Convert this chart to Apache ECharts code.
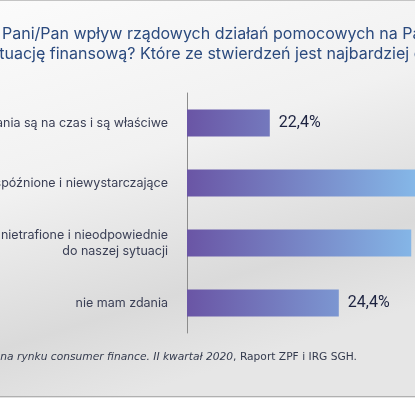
<!DOCTYPE html>
<html>
<head>
<meta charset="utf-8">
<script src="https://cdn.jsdelivr.net/npm/echarts@6/dist/echarts.min.js"></script>
<style>
  html, body { margin: 0; padding: 0; }
  #chart { width: 415px; height: 398px; }
</style>
</head>
<body>
<div id="chart"></div>
<script>
var categories = [
    'Działania są na czas i są właściwe',
    'Działania są spóźnione i niewystarczające',
    'Działania są nietrafione i nieodpowiednie\ndo naszej sytuacji',
    'nie mam zdania'
];
var values = [22.4, 26.7, 26.5, 24.4];
var titleLines = [
    'Jak ocenia Pani/Pan wpływ rządowych działań pomocowych na Pana/Pani',
    'sytuację finansową? Które ze stwierdzeń jest najbardziej odpowiednie?'
];
var sourcePrefix = 'Źródło: Koniunktura ';
var sourceItalic = 'na rynku consumer finance. II kwartał 2020';
var sourceNormal = ', Raport ZPF i IRG SGH.';

var FONT = 'Inter';
var SRC_FONT = 'DejaVu Sans';

// offsets so the cropped title lines start where the picture shows them
var ctx = document.createElement('canvas').getContext('2d');
ctx.font = '16px ' + FONT;
var off1 = ctx.measureText('Jak ocenia ').width;
var off2 = ctx.measureText('sy').width;
// source line: visible part runs from the left edge to x = 357
ctx.font = 'italic 12px "' + SRC_FONT + '"';
var wI = ctx.measureText(sourceItalic).width;
ctx.font = '12px "' + SRC_FONT + '"';
var wN = ctx.measureText(sourceNormal).width;
var srcSize = Math.min(13, 12 * 357 / (wI + wN));

var option = {
    backgroundColor: {
        type: 'linear', x: 0, y: 0, x2: 0.3, y2: 1,
        colorStops: [
            { offset: 0, color: '#fbfbfb' },
            { offset: 0.45, color: '#f1f1f1' },
            { offset: 0.8, color: '#dadada' },
            { offset: 1, color: '#e6e6e6' }
        ]
    },
    grid: { left: 187, top: 93, width: 345, height: 240, outerBoundsMode: 'none', containLabel: false },
    xAxis: {
        type: 'value',
        min: 20,
        max: 30,
        show: false
    },
    yAxis: {
        type: 'category',
        inverse: true,
        data: categories,
        axisLine: { lineStyle: { color: '#8c8c8c', width: 1 } },
        axisTick: { show: false },
        axisLabel: {
            margin: 19,
            color: '#3a3f55',
            fontFamily: FONT,
            fontSize: 12.5,
            lineHeight: 16
        }
    },
    series: [{
        type: 'bar',
        data: values,
        barWidth: 27,
        itemStyle: {
            color: {
                type: 'linear', x: 187, y: 0, x2: 417, y2: 0, global: true,
                colorStops: [
                    { offset: 0, color: '#6a55a5' },
                    { offset: 1, color: '#85b8e8' }
                ]
            }
        },
        label: {
            show: true,
            position: 'right',
            distance: 9,
            color: '#1d2340',
            fontFamily: 'Roboto',
            fontSize: 16,
            formatter: function (p) {
                return p.value.toFixed(1).replace('.', ',') + '%';
            }
        }
    }],
    graphic: [
        {
            type: 'text', left: 2 - off1, top: 26,
            style: { text: titleLines[0], fill: '#2b4a7e', font: '16px ' + FONT }
        },
        {
            type: 'text', left: -1 - off2, top: 46,
            style: { text: titleLines[1], fill: '#2b4a7e', font: '16px ' + FONT }
        },
        {
            type: 'text', x: 357, y: 357,
            style: {
                text: '{i|' + sourcePrefix + sourceItalic + '}{n|' + sourceNormal + '}',
                align: 'right',
                verticalAlign: 'middle',
                rich: {
                    i: { fontStyle: 'italic', fontFamily: SRC_FONT, fontSize: srcSize, fill: '#333a4d', color: '#333a4d' },
                    n: { fontFamily: SRC_FONT, fontSize: srcSize, fill: '#333a4d', color: '#333a4d' }
                }
            }
        },
        {
            type: 'line', shape: { x1: 0, y1: 0.5, x2: 415, y2: 0.5 },
            style: { stroke: '#c4c4c4', lineWidth: 1 }
        },
        {
            type: 'line', shape: { x1: 0, y1: 396.5, x2: 415, y2: 396.5 },
            style: { stroke: '#b0b0b0', lineWidth: 1 }
        }
    ]
};

var myecharts = echarts.init(document.getElementById('chart'));
myecharts.setOption(option);
</script>
</body>
</html>
